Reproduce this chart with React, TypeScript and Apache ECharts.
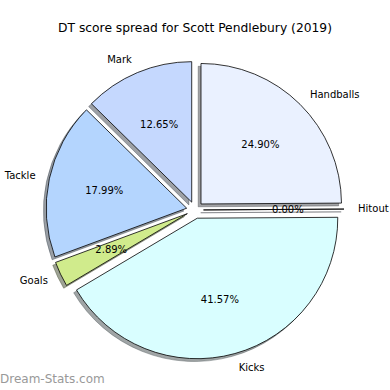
import React, { useEffect, useRef } from "react";
import * as echarts from "echarts";

const titleText = "DT score spread for Scott Pendlebury (2019)";
const categories = ["Handballs", "Hitout", "Kicks", "Goals", "Tackle", "Mark"];
const percentages = [24.9, 0.0, 41.57, 2.89, 17.99, 12.65];
const sliceColors = ["#eaf1ff", "#e0e8ff", "#d9feff", "#d0eb8c", "#b4d5fe", "#c5d8fe"];
const watermark = "Dream-Stats.com";

const CX = 195;
const CY = 210;
const R = 140.5;
const EXPLODE = 8.5;
const SHADOW = 2.8;
const FONT = "DejaVu Sans";

function shadowColor(hex: string): string {
  const n = parseInt(hex.slice(1), 16);
  const r = Math.round(((n >> 16) & 255) * 0.3);
  const g = Math.round(((n >> 8) & 255) * 0.3);
  const b = Math.round((n & 255) * 0.3);
  return `rgba(${r},${g},${b},0.5)`;
}

export default function App() {
  const ref = useRef<HTMLDivElement>(null);
  useEffect(() => {
    document.body.style.margin = "0";
    if (!ref.current) return;
    const chart = echarts.init(ref.current, null, { renderer: "svg" });
    const base = {
      type: "pie" as const,
      left: 0,
      top: 0,
      width: 600,
      height: 600,
      radius: [0, R],
      startAngle: 90,
      clockwise: true,
      selectedMode: "multiple" as const,
      selectedOffset: EXPLODE,
      avoidLabelOverlap: false,
      silent: true,
      emphasis: { disabled: true },
      select: { disabled: false },
    };
    chart.setOption({
      animation: false,
      backgroundColor: "#ffffff",
      title: {
        text: titleText,
        left: "center",
        top: 17,
        textStyle: { fontFamily: FONT, fontSize: 12.3, fontWeight: "normal", color: "#000" },
      },
      graphic: [
        {
          type: "text",
          left: 0,
          top: 373,
          style: {
            text: watermark,
            font: `normal 12px ${FONT}`,
            fill: "#999999",
          },
        },
      ],
      series: [
        {
          ...base,
          name: "shadow",
          center: [CX - SHADOW, CY + SHADOW],
          z: 1,
          label: { show: false },
          labelLine: { show: false },
          data: categories.map((c, i) => ({
            name: c,
            value: percentages[i],
            selected: true,
            itemStyle: {
              color: shadowColor(sliceColors[i]),
              borderColor: shadowColor(sliceColors[i]),
              borderWidth: 0.8,
            },
          })),
        },
        {
          ...base,
          name: "main",
          center: [CX, CY],
          z: 2,
          label: {
            show: true,
            position: "outside",
            formatter: "{b}",
            fontFamily: FONT,
            fontSize: 10,
            color: "#000",
            distanceToLabelLine: 0,
            overflow: "none",
          },
          labelLine: { show: false, length: R * 0.1, length2: 0 },
          data: categories.map((c, i) => ({
            name: c,
            value: percentages[i],
            selected: true,
            itemStyle: { color: sliceColors[i], borderColor: "#000", borderWidth: 0.8 },
          })),
        },
        {
          ...base,
          name: "pct",
          center: [CX, CY],
          radius: [R * 0.2 - 6, R],
          z: 3,
          label: {
            show: true,
            position: "inside",
            formatter: (p: any) => `${Number(p.value).toFixed(2)}%`,
            fontFamily: FONT,
            fontSize: 10,
            color: "#000",
          },
          labelLine: { show: false },
          data: categories.map((c, i) => ({
            name: c,
            value: percentages[i],
            selected: true,
            itemStyle: { color: "rgba(0,0,0,0)", borderWidth: 0 },
          })),
        },
      ],
    });
    return () => chart.dispose();
  }, []);
  return <div ref={ref} style={{ width: 390, height: 390 }} />;
}
